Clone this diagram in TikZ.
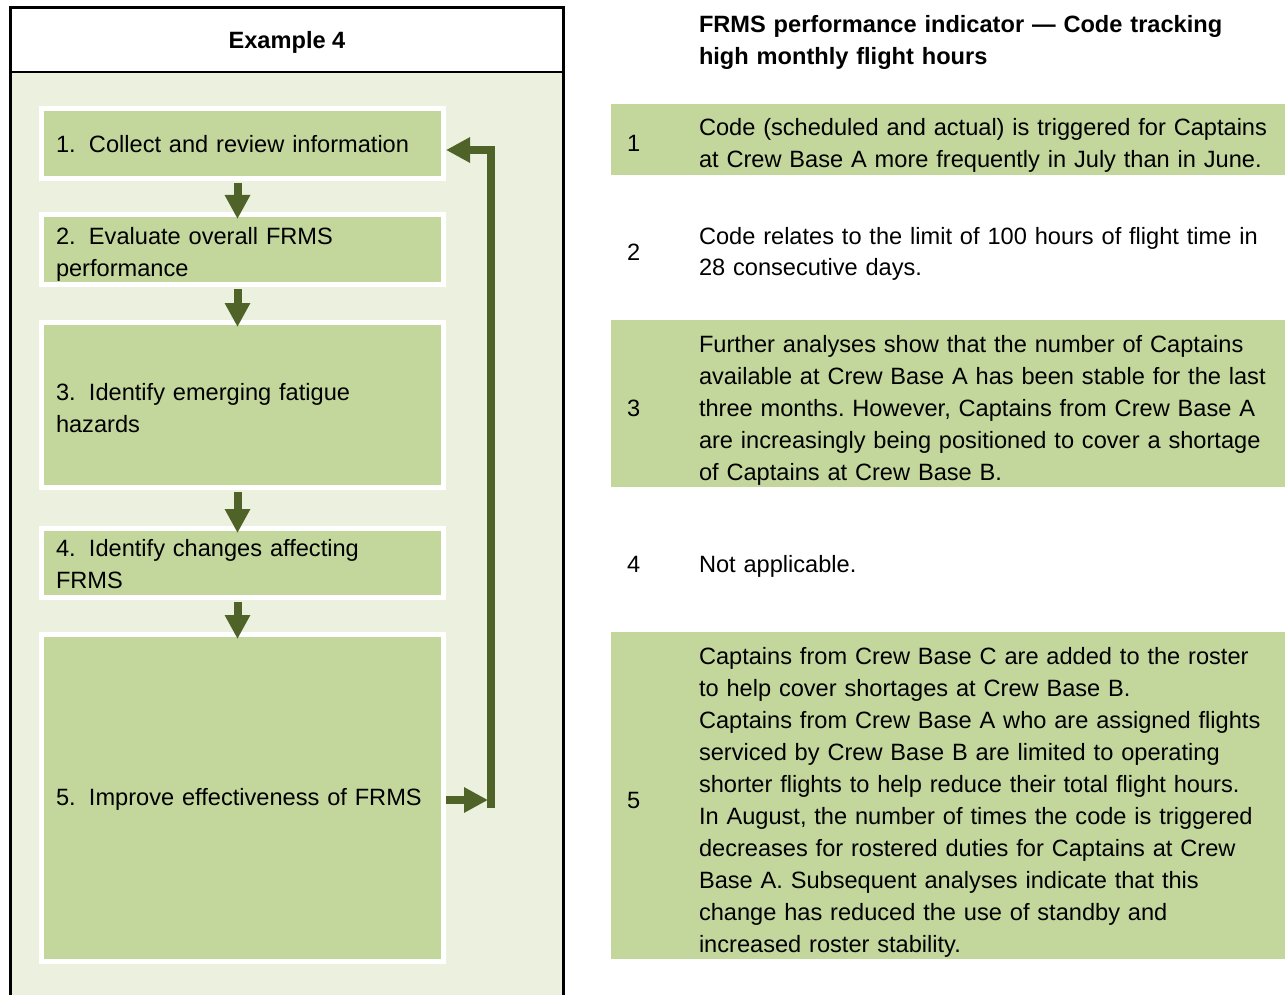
\documentclass[tikz,border=0pt]{standalone}
\usepackage{fontspec}
\setmainfont{Liberation Sans}
\usetikzlibrary{arrows.meta}
\definecolor{stepgreen}{HTML}{C3D69B}
\definecolor{panelgreen}{HTML}{EBF1DE}
\definecolor{arrowgreen}{HTML}{4F6228}
% invisible rule that sets the height of a box's first line
\newcommand\firstline[1]{\rule{0pt}{#1}}
\frenchspacing

\begin{document}
\begin{tikzpicture}[x=1pt,y=-1pt,
  every node/.style={font=\fontsize{23.6}{32}\selectfont, inner sep=0pt, outer sep=0pt},
  stepbox/.style={draw=white, line width=5pt, fill=stepgreen, anchor=north west,
    minimum width=402pt, text width=373pt, inner xsep=14.5pt, align=left, outer sep=2.5pt},
  rowtext/.style={anchor=base west, text width=585pt, align=left},
  rownum/.style={anchor=base west},
  band/.style={fill=stepgreen},
  flowarrow/.style={draw=arrowgreen, line width=8pt,
    -{Triangle[length=24pt,width=24pt]}},
  loopline/.style={draw=arrowgreen, line width=8pt, line join=miter},
]
\useasboundingbox (0,0) rectangle (1285,995);

% left panel: title strip and light green body
\fill[panelgreen] (10,72) rectangle (564,995);
\draw[line width=2.5pt] (10.5,995) -- (10.5,7.5) -- (563.5,7.5) -- (563.5,995);
\draw[line width=2.5pt] (10.5,72) -- (563.5,72);
\node[font=\bfseries\fontsize{23.6}{32}\selectfont, anchor=base] (title) at (287,48.5) {Example 4};

% process steps
\node[stepbox, minimum height=70pt] (b1) at (39,106)
  {\firstline{18pt}\makebox[33pt][l]{1.}Collect and review information};
\node[stepbox, minimum height=70pt] (b2) at (39,212)
  {\firstline{27pt}\makebox[33pt][l]{2.}Evaluate overall FRMS\\performance};
\node[stepbox, minimum height=165pt] (b3) at (39,320)
  {\firstline{23.5pt}\makebox[33pt][l]{3.}Identify emerging fatigue\\hazards};
\node[stepbox, minimum height=69pt] (b4) at (39,526)
  {\firstline{20pt}\makebox[33pt][l]{4.}Identify changes affecting\\FRMS};
\node[stepbox, minimum height=327pt] (b5) at (39,632)
  {\firstline{20pt}\makebox[33pt][l]{5.}Improve effectiveness of FRMS};

% arrows between steps
\foreach \a/\b in {b1/b2, b2/b3, b3/b4, b4/b5}
  \draw[flowarrow, shorten <=2pt, shorten >=-7pt]
    ([xshift=-5pt]\a.south) -- ([xshift=-5pt]\b.north);

% feedback loop from step 5 back to step 1
\coordinate (fbTop) at (491,150);
\coordinate (fbBot) at (491,808);
\coordinate (fbIn) at (488,800);
\draw[loopline, -{Triangle[length=24pt,width=24pt]}] (fbBot) -- (fbTop) -- (b1.east |- fbTop);
\draw[flowarrow] (b5.east |- fbIn) -- (fbIn);

% right table
\node[font=\bfseries\fontsize{23.6}{32}\selectfont, rowtext] (head) at (699,33)
  {FRMS performance indicator — Code tracking\\high monthly flight hours};

\fill[band] (611,104) rectangle (1285,175);
\fill[band] (611,320) rectangle (1285,487);
\fill[band] (611,632) rectangle (1285,959);

\node[rownum] (n1) at (627,152) {1};
\node[rowtext] (t1) at (699,136)
  {Code (scheduled and actual) is triggered for Captains\\
   at Crew Base A more frequently in July than in June.};

\node[rownum] (n2) at (627,260) {2};
\node[rowtext] (t2) at (699,244)
  {Code relates to the limit of 100 hours of flight time in\\
   28 consecutive days.};

\node[rownum] (n3) at (627,416) {3};
\node[rowtext] (t3) at (699,352)
  {Further analyses show that the number of Captains\\
   available at Crew Base A has been stable for the last\\
   three months. However, Captains from Crew Base A\\
   are increasingly being positioned to cover a shortage\\
   of Captains at Crew Base B.};

\node[rownum] (n4) at (627,572) {4};
\node[rowtext] (t4) at (699,572) {Not applicable.};

\node[rownum] (n5) at (627,808) {5};
\node[rowtext] (t5) at (699,664)
  {Captains from Crew Base C are added to the roster\\
   to help cover shortages at Crew Base B.\\
   Captains from Crew Base A who are assigned flights\\
   serviced by Crew Base B are limited to operating\\
   shorter flights to help reduce their total flight hours.\\
   In August, the number of times the code is triggered\\
   decreases for rostered duties for Captains at Crew\\
   Base A. Subsequent analyses indicate that this\\
   change has reduced the use of standby and\\
   increased roster stability.};
\end{tikzpicture}
\end{document}
